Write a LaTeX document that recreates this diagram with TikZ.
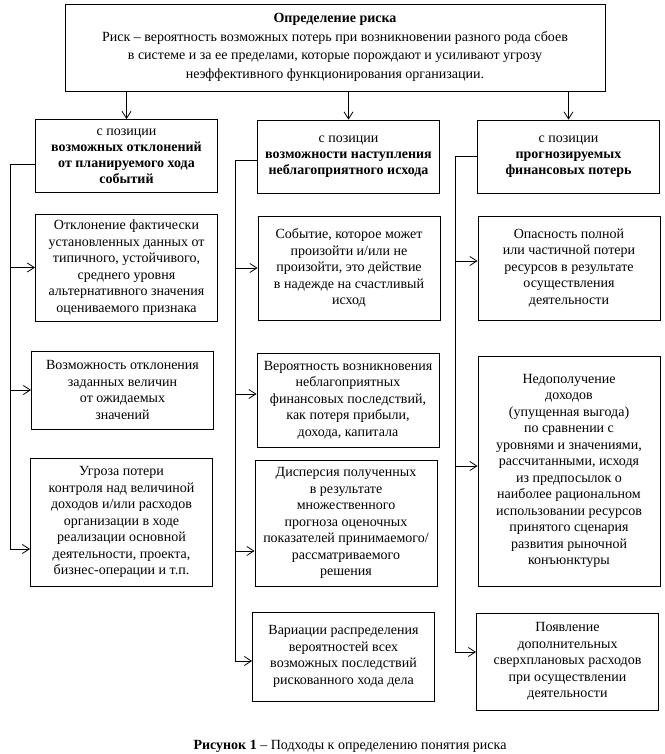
\documentclass[tikz,border=0pt]{standalone}
\usepackage{fontspec}
\setmainfont{Liberation Serif}
\usetikzlibrary{arrows.meta}

\begin{document}
\begin{tikzpicture}[
  x=1pt, y=-1pt,
  topbox/.style = {draw, rectangle, line width=0.9pt,
                   minimum width=540pt, minimum height=87pt,
                   align=center, inner sep=2pt,
                   font=\fontsize{14}{18.5}\selectfont},
  head/.style   = {draw, rectangle, line width=0.9pt,
                   minimum width=182pt, minimum height=73pt,
                   align=center, inner sep=2pt,
                   font=\fontsize{14}{16}\selectfont},
  block/.style  = {draw, rectangle, line width=0.9pt,
                   minimum width=182pt,
                   align=center, inner sep=2pt,
                   font=\fontsize{14}{16.5}\selectfont},
  arr/.style    = {-{Straight Barb[length=7pt,width=9pt]}, line width=0.8pt},
  figcap/.style = {font=\fontsize{14}{16}\selectfont, inner sep=0pt},
]
\useasboundingbox (0,0) rectangle (664,754);

%── Определение ───────────────────────────────────────────────────────────
\node[topbox] (def) at (335,47.5)
  {\textbf{Определение риска}\\
   Риск – вероятность возможных потерь при возникновении разного рода сбоев\\
   в системе и за ее пределами, которые порождают и усиливают угрозу\\
   неэффективного функционирования организации.};

%── Позиции ───────────────────────────────────────────────────────────────
\node[head] (hL) at (126.5,156)
  {с позиции\\\textbf{возможных отклонений}\\\textbf{от планируемого хода}\\\textbf{событий}};
\node[head] (hM) at (348.5,156.5)
  {с позиции\\\textbf{возможности наступления}\\\textbf{неблагоприятного исхода}};
\node[head] (hR) at (568.5,156.5)
  {с позиции\\\textbf{прогнозируемых}\\\textbf{финансовых потерь}};

%── Левая колонка ─────────────────────────────────────────────────────────
\node[block, minimum height=107pt] (bL1) at (126.5,267.5)
  {Отклонение фактически\\установленных данных от\\типичного, устойчивого,\\среднего уровня\\альтернативного значения\\оцениваемого признака};
\node[block, minimum height=78pt] (bL2) at (122.5,390)
  {Возможность отклонения\\заданных величин\\от ожидаемых\\значений};
\node[block, minimum height=128pt] (bL3) at (121.5,522)
  {Угроза потери\\контроля над величиной\\доходов и/или расходов\\организации в ходе\\реализации основной\\деятельности, проекта,\\бизнес-операции и т.п.};

%── Средняя колонка ───────────────────────────────────────────────────────
\node[block, minimum height=104pt] (bM1) at (349,268)
  {Событие, которое может\\произойти и/или не\\произойти, это действие\\в надежде на счастливый\\исход};
\node[block, minimum height=94pt] (bM2) at (348,400)
  {Вероятность возникновения\\неблагоприятных\\финансовых последствий,\\как потеря прибыли,\\дохода, капитала};
\node[block, minimum height=126pt] (bM3) at (346,523)
  {Дисперсия полученных\\в результате\\множественного\\прогноза оценочных\\показателей принимаемого/\\рассматриваемого\\решения};
\node[block, minimum height=89pt] (bM4) at (343.5,656.5)
  {Вариации распределения\\вероятностей всех\\возможных последствий\\рискованного хода дела};

%── Правая колонка ────────────────────────────────────────────────────────
\node[block, minimum height=104pt] (bR1) at (569,268)
  {Опасность полной\\или частичной потери\\ресурсов в результате\\осуществления\\деятельности};
\node[block, minimum height=230pt] (bR2) at (569,471)
  {Недополучение\\доходов\\(упущенная выгода)\\по сравнении с\\уровнями и значениями,\\рассчитанными, исходя\\из предпосылок о\\наиболее рациональном\\использовании ресурсов\\принятого сценария\\развития рыночной\\конъюнктуры};
\node[block, minimum height=97pt] (bR3) at (567.5,661.5)
  {Появление\\дополнительных\\сверхплановых расходов\\при осуществлении\\деятельности};

%── Подпись ───────────────────────────────────────────────────────────────
\node[figcap] (caption) at (350,746)
  {\textbf{Рисунок 1} – Подходы к определению понятия риска};

%── Стрелки сверху ────────────────────────────────────────────────────────
\draw[arr] (def.south -| hL.north) -- (hL.north);
\draw[arr] (def.south -| hM.north) -- (hM.north);
\draw[arr] (def.south -| hR.north) -- (hR.north);

%── Шины и точки входа ────────────────────────────────────────────────────
\coordinate (busL) at (10,164);
\coordinate (busM) at (235,160);
\coordinate (busR) at (455,156);

\coordinate (inL3) at ([yshift=-27pt]bL3.west);
\coordinate (inM2) at ([yshift=6pt]bM2.west);
\coordinate (inM3) at ([yshift=-28pt]bM3.west);
\coordinate (inM4) at ([yshift=-4.5pt]bM4.west);
\coordinate (inR1) at ([yshift=7pt]bR1.west);
\coordinate (inR2) at ([yshift=5pt]bR2.west);
\coordinate (inR3) at ([yshift=9.5pt]bR3.west);

\draw[arr] (hL.west |- busL) -- (busL) |- (inL3);
\draw[arr] (busL |- bL1.west) -- (bL1.west);
\draw[arr] (busL |- bL2.west) -- (bL2.west);

\draw[arr] (hM.west |- busM) -- (busM) |- (inM4);
\draw[arr] (busM |- bM1.west) -- (bM1.west);
\draw[arr] (busM |- inM2) -- (inM2);
\draw[arr] (busM |- inM3) -- (inM3);

\draw[arr] (hR.west |- busR) -- (busR) |- (inR3);
\draw[arr] (busR |- inR1) -- (inR1);
\draw[arr] (busR |- inR2) -- (inR2);

\end{tikzpicture}
\end{document}
